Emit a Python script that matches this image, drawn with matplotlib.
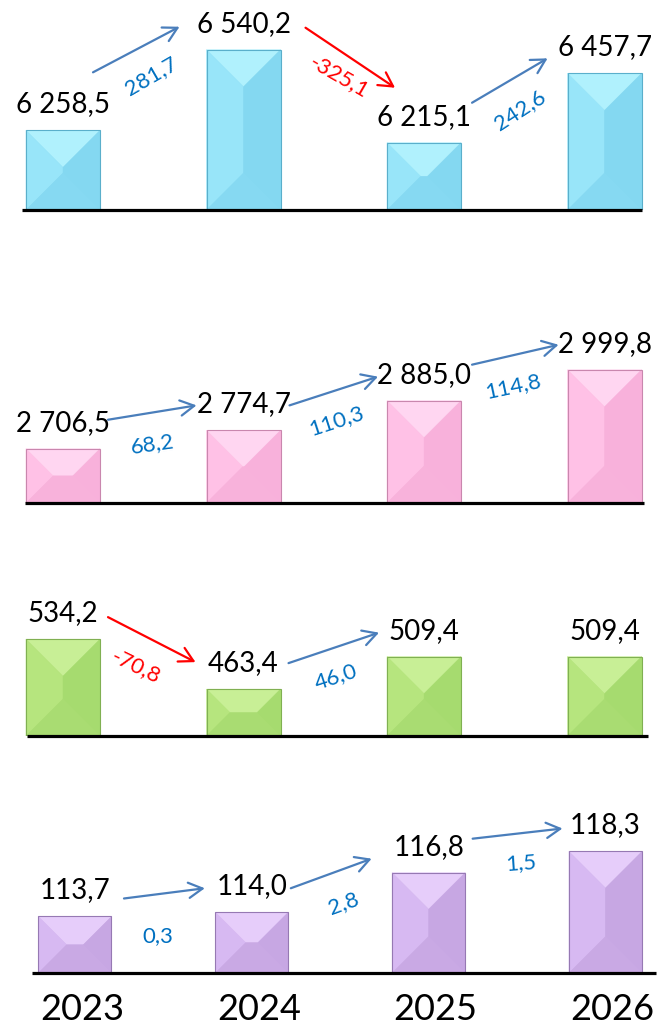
import matplotlib
matplotlib.use('Agg')
import matplotlib.pyplot as plt
import numpy as np
from matplotlib.patches import Polygon, Rectangle

plt.rcParams['font.family'] = ['Lato', 'DejaVu Sans']

# datos
years = ['2023', '2024', '2025', '2026']
values_1 = [6258.5, 6540.2, 6215.1, 6457.7]
values_2 = [2706.5, 2774.7, 2885.0, 2999.8]
values_3 = [534.2, 463.4, 509.4, 509.4]
values_4 = [113.7, 114.0, 116.8, 118.3]

W, H = 658, 1028
fig = plt.figure(figsize=(W / 100, H / 100), dpi=100)
fig.patch.set_facecolor('white')

BLUE_ARROW = '#4A7EBB'
BLUE_TEXT = '#0070C0'
RED = '#FF0000'

# colores de las caras: base, arriba, izquierda, derecha, abajo, borde
cyan = ['#8ADDF6', '#B0F1FD', '#98E5F9', '#84D8F1', '#86D9F2', '#5AAFCB']
pink = ['#FDB8DF', '#FFD6F1', '#FFC1E6', '#F8B1DB', '#F8B2DB', '#C987AE']
green = ['#AFE074', '#C8EF96', '#B6E57E', '#A6DB6F', '#A9DC72', '#80B052']
purple = ['#CDACEA', '#E6CDFA', '#D7B9F2', '#C7A7E3', '#C9A9E4', '#9679B3']

# posicion de flechas (px): cola rel. barra i, punta rel. barra i+1, etiqueta rel. punto medio, rotacion
panels = [
    dict(values=values_1, base=210, top=0, ylim=(5980, 6714), xlim=(-0.349, 3.296),
         width=0.41, line=(-0.227, 3.208), colors=cyan,
         arrows=[((30, 58), (-64, 23), (13.5, -25), 30),
                 ((62, 22), (-29, 55), (-10.5, -17), -30),
                 ((48, 40), (-57, 15), (9.5, -27.5), 33)]),
    dict(values=values_2, base=503, top=290, ylim=(2505, 3296), xlim=(-0.349, 3.296),
         width=0.41, line=(-0.21, 3.22), colors=pink,
         arrows=[((45, 29), (-47, 25), (-0.5, -30), 8),
                 ((46, 25), (-46, 24), (2, -27.5), 18),
                 ((48, 36), (-46, 25), (-3, -30), 12)]),
    dict(values=values_3, base=736, top=560, ylim=(397, 646.3), xlim=(-0.349, 3.296),
         width=0.41, line=(-0.2, 3.24), colors=green,
         arrows=[((45, 22), (-48, 27), (-15, -25.5), -26),
                 ((45, 26), (-45, 24), (1, -27), 18),
                 None]),
    dict(values=values_4, base=973, top=780, ylim=(109.7, 123.36), xlim=(-0.424, 3.297),
         width=0.413, line=(-0.243, 3.286), colors=purple,
         arrows=[((49, 18), (-47, 24), (-7, -41), 0),
                 ((39, 24), (-57, 14), (12, -28), 20),
                 ((44, 34), (-43, 23), (3, -27), 4)]),
]


def fmt(v):
    return f"{v:,.1f}".replace(',', ' ').replace('.', ',')


def bevel(ax, rect, cols):
    x0, y0 = ax.transData.transform((rect.get_x(), rect.get_y()))
    x1, y1 = ax.transData.transform((rect.get_x() + rect.get_width(),
                                     rect.get_y() + rect.get_height()))
    w, h = x1 - x0, y1 - y0
    cx, cy = (x0 + x1) / 2, (y0 + y1) / 2
    TL, TR, BL, BR = (x0, y1), (x1, y1), (x0, y0), (x1, y0)
    if h >= w:
        pt, pb = (cx, y1 - w / 2), (cx, y0 + w / 2)
        faces = [[TL, TR, pt], [BL, TL, pt, pb], [BR, TR, pt, pb], [BL, BR, pb]]
    else:
        pl, pr = (x0 + h / 2, cy), (x1 - h / 2, cy)
        faces = [[TL, TR, pr, pl], [BL, TL, pl], [BR, TR, pr], [BL, BR, pr, pl]]
    inv = ax.transData.inverted()
    for pts, c in zip(faces, cols[1:5]):
        ax.add_patch(Polygon(inv.transform(np.array(pts)), closed=True,
                             facecolor=c, edgecolor=c, lw=0.3, zorder=3))
    ax.add_patch(Rectangle(rect.get_xy(), rect.get_width(), rect.get_height(),
                           fill=False, edgecolor=cols[5], lw=0.8, zorder=4))


for p in panels:
    vals = p['values']
    ymin = p['ylim'][0]
    ax = fig.add_axes([0, (H - p['base']) / H, 1, (p['base'] - p['top']) / H])
    ax.set_xlim(p['xlim'])
    ax.set_ylim(p['ylim'])
    ax.axis('off')

    bars = ax.bar(range(len(vals)), [v - ymin for v in vals], bottom=ymin,
                  width=p['width'], color=p['colors'][0], zorder=2)
    for rect in bars:
        bevel(ax, rect, p['colors'])

    ax.plot(p['line'], [ymin, ymin], color='black', lw=2.3,
            solid_capstyle='butt', clip_on=False, zorder=5)

    for i, v in enumerate(vals):
        ax.annotate(fmt(v), xy=(i, v), xytext=(0, 13), textcoords='offset points',
                    ha='center', va='baseline', fontsize=20, color='black',
                    annotation_clip=False)

    for i, spec in enumerate(p['arrows']):
        if spec is None:
            continue
        d = round(vals[i + 1] - vals[i], 1)
        tail_off, head_off, lab_off, rot = spec
        a = ax.transData.transform((i, vals[i])) + np.array(tail_off)
        b = ax.transData.transform((i + 1, vals[i + 1])) + np.array(head_off)
        col = RED if d < 0 else BLUE_ARROW
        ax.annotate('', xy=b, xycoords='figure pixels', xytext=a,
                    textcoords='figure pixels', annotation_clip=False,
                    arrowprops=dict(arrowstyle='->,head_length=1.0,head_width=0.55',
                                    color=col, lw=1.6, shrinkA=0, shrinkB=0,
                                    mutation_scale=10))
        m = (a + b) / 2 + np.array(lab_off)
        ax.annotate(fmt(d), xy=m, xycoords='figure pixels', ha='center',
                    va='center_baseline', rotation=rot, rotation_mode='anchor',
                    fontsize=16, color=RED if d < 0 else BLUE_TEXT,
                    annotation_clip=False)

    last_ax = ax

# años
for i, y in enumerate(years):
    last_ax.annotate(y, xy=(i, panels[-1]['ylim'][0]), xytext=(5, -33.5),
                     textcoords='offset points', ha='center', va='baseline',
                     fontsize=26, color='black', annotation_clip=False)

fig.savefig('out.png', dpi=100)
